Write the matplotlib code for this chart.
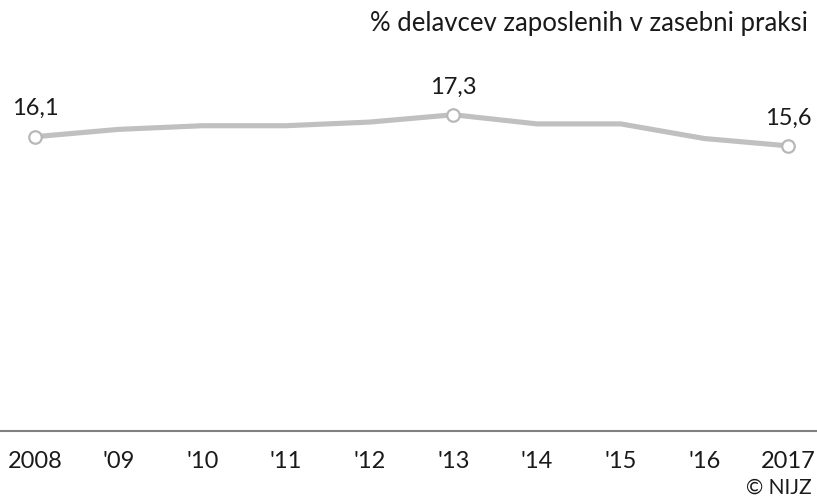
import matplotlib
matplotlib.use("Agg")
import matplotlib.pyplot as plt

years = [2008, 2009, 2010, 2011, 2012, 2013, 2014, 2015, 2016, 2017]
tick_labels = ["2008", "'09", "'10", "'11", "'12", "'13", "'14", "'15", "'16", "2017"]
values = [16.1, 16.5, 16.7, 16.7, 16.9, 17.3, 16.8, 16.8, 16.0, 15.6]
labelled = [0, 5, 9]
title = "% delavcev zaposlenih v zasebni praksi"
credit = "© NIJZ"

plt.rcParams["font.family"] = ["Lato", "DejaVu Sans"]

W, H = 817, 501
fig = plt.figure(figsize=(W / 100, H / 100), dpi=100)
x0, x1 = 35, 788
ax = fig.add_axes([0, (H - 431) / H, 1, (431 - 60) / H])
span = (x1 - x0)
ax.set_xlim(2008 - 9 * x0 / span, 2017 + 9 * (W - x1) / span)
ax.set_ylim(0, (431 - 60) / 18.28)
for s in ax.spines.values():
    s.set_visible(False)
ax.set_yticks([])
ax.set_xticks([])

ax.plot(years, values, color="#c0c0c0", lw=3.7, solid_joinstyle="round", zorder=2)
ax.plot([years[i] for i in labelled], [values[i] for i in labelled], ls="none",
        marker="o", ms=9, mfc="white", mec="#b8b8b8", mew=1.6, zorder=3)
for i in labelled:
    ax.annotate(f"{values[i]:.1f}".replace(".", ","), (years[i], values[i]),
                xytext=(0, 12.5), textcoords="offset points", ha="center", va="bottom",
                fontsize=17, color="#1a1a1a")

fig.add_artist(plt.Line2D([0, 1], [(H - 431) / H] * 2, color="#808080", lw=1.5,
                          transform=fig.transFigure))
for yr, lab in zip(years, tick_labels):
    ax.annotate(lab, (yr, 0), xytext=(0, -22), textcoords="offset points",
                ha="center", va="center", fontsize=17, color="#1a1a1a",
                annotation_clip=False)

fig.text(808 / W, 1 - 23 / H, title, ha="right", va="center", fontsize=18.5, color="#1a1a1a")
fig.text(812 / W, 1 - 488 / H, credit, ha="right", va="center", fontsize=15, color="#1a1a1a")

fig.savefig("out.png", dpi=100)
